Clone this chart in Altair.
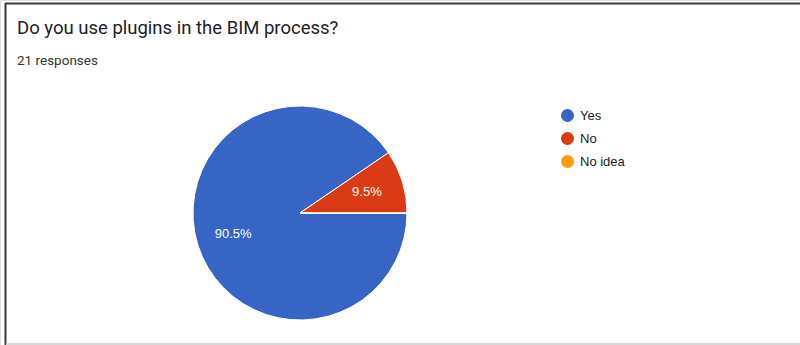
import math
import altair as alt
import pandas as pd

# ---- data ----
answers = ["Yes", "No", "No idea"]
counts = [19, 2, 0]
total_responses = 21
colors = ["#3765c6", "#da3a14", "#ff9c0f"]
title_text = "Do you use plugins in the BIM process?"
subtitle_text = "21 responses"

df = pd.DataFrame({"answer": answers, "count": counts, "order": list(range(len(answers)))})

W, H = 800, 345
CX, CY, R = 300, 213, 107

theta_scale = alt.Scale(range=[math.pi / 2, math.pi / 2 + 2 * math.pi])
color_scale = alt.Scale(domain=answers, range=colors)

base = alt.Chart(df).encode(
    theta=alt.Theta("count:Q", stack=True, scale=theta_scale),
    order=alt.Order("order:Q", sort="ascending"),
)

pie = base.mark_arc(outerRadius=R, stroke="white", strokeWidth=1).encode(
    x=alt.value(CX),
    y=alt.value(CY),
    color=alt.Color(
        "answer:N",
        scale=color_scale,
        sort=answers,
        legend=alt.Legend(
            title=None,
            orient="none",
            legendX=561,
            legendY=109,
            symbolType="circle",
            symbolSize=169,
            symbolStrokeWidth=0,
            labelFont="Liberation Sans",
            labelFontSize=13,
            labelColor="#222222",
            labelOffset=6,
            rowPadding=9,
        ),
    ),
)

labels = (
    base.transform_filter("datum.count > 0")
    .transform_calculate(pct=f"format(datum.count / {total_responses} * 100, '.1f') + '%'")
    .mark_text(radius=70, font="Liberation Sans", fontSize=13, color="white")
    .encode(x=alt.value(CX), y=alt.value(CY), text="pct:N")
)

title = alt.Chart(pd.DataFrame({"t": [title_text]})).mark_text(
    align="left", baseline="alphabetic", font="Roboto", fontSize=18.5, color="#202124"
).encode(x=alt.value(17), y=alt.value(34), text="t:N")

subtitle = alt.Chart(pd.DataFrame({"t": [subtitle_text]})).mark_text(
    align="left", baseline="alphabetic", font="Roboto", fontSize=13.5, color="#333333"
).encode(x=alt.value(17), y=alt.value(65), text="t:N")

border_top = alt.Chart(pd.DataFrame({"a": [0]})).mark_rule(color="#3a3a3a", strokeWidth=2).encode(
    x=alt.value(5), x2=alt.value(W), y=alt.value(3.5)
)
border_left = alt.Chart(pd.DataFrame({"a": [0]})).mark_rule(color="#3a3a3a", strokeWidth=2).encode(
    x=alt.value(5.5), y=alt.value(3), y2=alt.value(H)
)
border_bottom = alt.Chart(pd.DataFrame({"a": [0]})).mark_rule(color="#d8d8d8", strokeWidth=2).encode(
    x=alt.value(6), x2=alt.value(W), y=alt.value(344)
)

chart = (
    alt.layer(pie, labels, title, subtitle, border_top, border_left, border_bottom)
    .resolve_scale(theta="shared")
    .properties(width=W, height=H, autosize=alt.AutoSizeParams(type="none"), padding=0)
    .configure_view(stroke=None)
    .configure(background="white")
)

chart.save("out.html", embed_options={"renderer": "svg", "actions": False})
